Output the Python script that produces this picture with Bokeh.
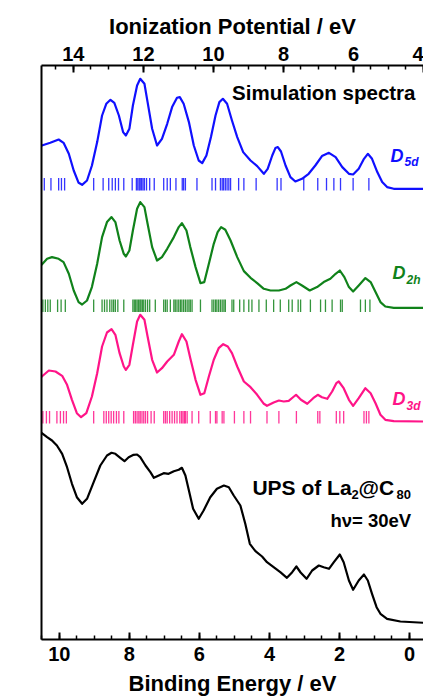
from bokeh.plotting import figure
from bokeh.models import Range1d, LinearAxis, SingleIntervalTicker, FixedTicker, Label
from bokeh.embed import file_html
from bokeh.resources import INLINE

# ---------------- data ----------------
# Binding energy (eV) / intensity (arb. units above each trace's own baseline)
be_d5d = [10.51, 10.50, 10.26, 10.02, 9.88, 9.73, 9.59, 9.45, 9.35, 9.21, 9.07, 8.92, 8.78, 8.66, 8.54,
          8.43, 8.30, 8.18, 8.10, 8.00, 7.90, 7.78, 7.69, 7.57, 7.48, 7.35, 7.21, 7.07, 6.92, 6.78,
          6.64, 6.56, 6.45, 6.30, 6.16, 6.02, 5.92, 5.80, 5.67, 5.54, 5.43, 5.33, 5.21, 5.07, 4.92,
          4.75, 4.54, 4.35, 4.16, 4.05, 3.92, 3.83, 3.76, 3.67, 3.54, 3.40, 3.26, 3.07, 2.88, 2.69,
          2.50, 2.30, 2.11, 1.92, 1.73, 1.61, 1.45, 1.30, 1.19, 1.07, 0.92, 0.78, 0.64, 0.45, -0.40]
int_d5d = [43, 43.3, 46, 49.3, 46, 35, 18.3, 6, 4, 8.3, 23.3, 46.7, 73.3, 85, 89,
           86, 73.3, 56.7, 53.3, 60, 83.3, 103.3, 110, 105, 86.7, 60, 43.3, 50, 65, 81.7,
           91, 91.7, 85, 66.7, 43.3, 28.3, 25.7, 33.3, 51.7, 73.3, 86.7, 90, 85, 68.3, 51.7,
           36.7, 28.3, 22.7, 15, 20, 33.3, 40.7, 41.7, 37.3, 23.3, 11.7, 7.3, 10, 15, 23.3,
           32.7, 36, 31.7, 21.7, 15, 14.3, 20, 30, 35, 30, 16.7, 6.7, 1.7, 0, 0]

be_d2h = [10.51, 10.50, 10.35, 10.21, 10.02, 9.88, 9.73, 9.59, 9.45, 9.35, 9.21, 9.07, 8.92, 8.78, 8.64,
          8.51, 8.40, 8.28, 8.16, 8.10, 8.00, 7.90, 7.78, 7.69, 7.57, 7.48, 7.35, 7.21, 7.07, 6.92,
          6.73, 6.59, 6.50, 6.37, 6.26, 6.11, 5.97, 5.86, 5.73, 5.59, 5.48, 5.38, 5.26, 5.11, 4.92,
          4.73, 4.54, 4.35, 4.16, 3.97, 3.73, 3.54, 3.40, 3.23, 3.07, 2.85, 2.64, 2.45, 2.26, 2.11,
          1.99, 1.86, 1.73, 1.61, 1.45, 1.26, 1.11, 0.97, 0.83, 0.69, 0.45, -0.40]
int_d2h = [43, 43.3, 49, 50.7, 49, 45.7, 34, 17.3, 5.7, 3.3, 7.3, 20.7, 44, 70.7, 85.7,
           90.7, 85.7, 67.3, 54, 51.3, 57.3, 77.3, 99, 105.7, 100.7, 84, 60.7, 47.3, 50.7, 59,
           70.7, 80.7, 84.7, 77.3, 60.7, 40.7, 24.7, 25.7, 44, 64, 75.7, 80.7, 78, 67.3, 50.7,
           36.7, 30, 24.7, 19, 17.3, 17.3, 19, 22.3, 25.7, 22.3, 17.3, 20.7, 25.7, 29, 34,
           37.3, 30.7, 20.7, 16.3, 22.3, 29.7, 25.7, 15.7, 5.7, 1.3, 0, 0]

be_d3d = [10.51, 10.50, 10.30, 10.11, 9.92, 9.78, 9.64, 9.50, 9.38, 9.23, 9.07, 8.92, 8.78, 8.64, 8.51,
          8.40, 8.28, 8.16, 8.10, 8.00, 7.90, 7.78, 7.69, 7.57, 7.48, 7.35, 7.21, 7.07, 6.92, 6.73,
          6.59, 6.50, 6.37, 6.26, 6.11, 5.97, 5.86, 5.73, 5.59, 5.45, 5.32, 5.19, 5.07, 4.92, 4.73,
          4.54, 4.35, 4.16, 4.07, 3.88, 3.73, 3.59, 3.45, 3.30, 3.24, 3.10, 2.92, 2.75, 2.62, 2.50,
          2.35, 2.21, 2.09, 2.02, 1.88, 1.73, 1.61, 1.45, 1.26, 1.11, 0.97, 0.83, 0.69, 0.45, -0.40]
int_d3d = [44.5, 45, 51, 50, 45.7, 36.7, 21.7, 8.3, 4.3, 8.3, 25, 48.3, 75, 89, 92.3,
           86.7, 68.3, 55, 51.7, 56.7, 76.7, 100, 106.7, 101.7, 85, 61.7, 49, 53.3, 60, 66.7,
           80, 87.3, 80, 63.3, 41.7, 26.7, 28.3, 45, 61.7, 73.3, 77.3, 75, 68.3, 55, 40,
           34.3, 26.7, 17.7, 15.7, 19, 21, 20, 20.7, 25, 26.7, 21.7, 17.7, 23.3, 26.7, 24.3,
           22.7, 30, 38.3, 40, 33.3, 21.7, 15.7, 23.3, 33.3, 28.3, 18.3, 6.7, 1.7, 0.3, 0]

be_ups = [10.51, 10.50, 10.35, 10.21, 10.07, 9.92, 9.78, 9.64, 9.50, 9.35, 9.21, 9.02, 8.83, 8.64, 8.51,
          8.40, 8.26, 8.14, 8.02, 7.88, 7.78, 7.69, 7.54, 7.40, 7.30, 7.16, 7.02, 6.88, 6.73, 6.59,
          6.50, 6.40, 6.30, 6.18, 6.02, 5.88, 5.69, 5.50, 5.30, 5.16, 5.02, 4.83, 4.69, 4.56, 4.40,
          4.21, 4.07, 3.88, 3.69, 3.50, 3.35, 3.23, 3.11, 2.94, 2.78, 2.59, 2.45, 2.30, 2.16, 1.99,
          1.88, 1.73, 1.61, 1.45, 1.30, 1.19, 1.07, 0.94, 0.83, 0.64, 0.26, -0.40]
cnt_ups = [207, 206.3, 202.3, 199, 194, 185.7, 172.3, 155.7, 142.3, 135.7, 140.7, 157.3, 174, 184, 186.7,
           185.7, 181.7, 178.3, 182.3, 184.7, 185, 182.3, 174, 167.3, 161.7, 164, 166.3, 165.7, 168.3, 169.7,
           171.7, 164, 149, 130.7, 120.7, 129, 142.3, 150.7, 154, 152.3, 144, 134, 115.7, 95.7, 88.3,
           83, 77.3, 72.3, 67.3, 61.7, 67.3, 73, 67, 60.7, 69, 74, 72.3, 70.7, 77.3, 85,
           77.3, 59, 49.7, 59, 65, 59, 45.7, 32.3, 25.7, 20.7, 18, 16.7]

# calculated level positions (binding energy, eV)
sticks_d5d = [10.43, 10.24, 10.02, 9.94, 9.85, 9.02, 8.75, 8.59, 8.49, 8.40, 8.31, 8.16, 7.92, 7.80,
              7.76, 7.72, 7.69, 7.65, 7.61, 7.57, 7.51, 7.42, 7.29, 7.02, 6.92, 6.83, 6.67, 6.49,
              6.45, 6.40, 6.07, 5.64, 5.54, 5.40, 5.35, 5.31, 5.26, 5.21, 5.16, 5.11, 4.88, 4.73,
              4.38, 3.78, 3.67, 3.02, 2.62, 2.37, 2.16, 1.97, 1.61, 1.16]
sticks_d2h = [10.47, 10.40, 10.33, 10.26, 10.05, 9.95, 9.83, 9.02, 8.78, 8.71, 8.64, 8.56, 8.50, 8.45,
              8.40, 8.33, 8.16, 7.90, 7.86, 7.82, 7.78, 7.74, 7.70, 7.67, 7.63, 7.59, 7.54, 7.48,
              7.42, 7.26, 7.02, 6.97, 6.92, 6.83, 6.73, 6.69, 6.64, 6.59, 6.54, 6.50, 6.45, 6.40,
              6.35, 6.30, 6.26, 6.21, 5.97, 5.64, 5.59, 5.54, 5.50, 5.45, 5.40, 5.35, 5.30, 5.26,
              5.07, 5.02, 4.85, 4.73, 4.59, 4.50, 4.30, 4.09, 3.88, 3.69, 3.45, 3.35, 3.18, 3.11,
              2.83, 2.54, 2.40, 2.21, 1.97, 1.92, 1.40, 1.26, 1.13]
sticks_d3d = [10.47, 10.37, 10.28, 10.07, 9.97, 9.88, 9.80, 9.02, 8.73, 8.66, 8.59, 8.52, 8.45, 8.37,
              8.30, 8.16, 7.88, 7.83, 7.78, 7.73, 7.69, 7.64, 7.59, 7.54, 7.48, 7.38, 7.29, 7.02,
              6.97, 6.92, 6.85, 6.78, 6.71, 6.64, 6.56, 6.51, 6.47, 6.43, 6.40, 6.35, 6.21, 6.02,
              5.69, 5.54, 5.50, 5.35, 5.30, 5.00, 4.73, 4.54, 4.07, 3.73, 3.23, 2.62, 2.56, 2.09,
              1.99, 1.88, 1.30, 1.23, 1.16]

IP_OFFSET = 4.4          # ionization potential = binding energy + offset
BE_START, BE_END = 10.51, -0.40

# layout constants (vertical stacking of traces)
BASE_D5D, BASE_D2H, BASE_D3D = 450.7, 331.7, 218.0
STICK_D5D = (449.0, 461.5)
STICK_D2H = (327.5, 340.0)
STICK_D3D = (216.0, 228.5)

BLUE = "#1010ff"
GREEN = "#10821a"
PINK = "#ff1488"
FONT = "Liberation Sans"

p = figure(width=423, height=700, output_backend="svg", toolbar_location=None,
           x_range=Range1d(BE_START, BE_END), y_range=Range1d(0, 574),
           min_border_left=41, min_border_right=0, min_border_top=65, min_border_bottom=61,
           x_axis_location="below")
p.outline_line_color = None
p.grid.visible = False
p.background_fill_color = "white"


def shifted(vals, base):
    return [base + v for v in vals]


p.line(be_d5d, shifted(int_d5d, BASE_D5D), line_color=BLUE, line_width=2.2, line_join="round")
p.line(be_d2h, shifted(int_d2h, BASE_D2H), line_color=GREEN, line_width=2.2, line_join="round")
p.line(be_d3d, shifted(int_d3d, BASE_D3D), line_color=PINK, line_width=2.2, line_join="round")
p.line(be_ups, cnt_ups, line_color="black", line_width=2.2, line_join="round")

for sticks, (lo, hi), col in [(sticks_d5d, STICK_D5D, BLUE),
                              (sticks_d2h, STICK_D2H, GREEN),
                              (sticks_d3d, STICK_D3D, PINK)]:
    p.segment(x0=sticks, y0=[lo] * len(sticks), x1=sticks, y1=[hi] * len(sticks),
              line_color=col, line_width=1.3, line_alpha=0.85)


def style_axis(a, label):
    a.axis_label = label
    a.axis_label_text_font = FONT
    a.axis_label_text_font_style = "bold"
    a.axis_label_text_font_size = "22px"
    a.axis_label_text_color = "black"
    a.major_label_text_font = FONT
    a.major_label_text_font_style = "bold"
    a.major_label_text_font_size = "20px"
    a.major_label_text_color = "black"
    a.axis_line_width = 2
    a.axis_line_color = "black"
    a.major_tick_in = 7
    a.major_tick_out = 0
    a.minor_tick_in = 4
    a.minor_tick_out = 0
    a.major_tick_line_width = 2
    a.minor_tick_line_width = 1.5
    a.major_tick_line_color = "black"
    a.minor_tick_line_color = "black"


# bottom axis
ax = p.xaxis[0]
ax.ticker = SingleIntervalTicker(interval=2, num_minor_ticks=4)
style_axis(ax, "Binding Energy / eV")
ax.axis_label_standoff = 7
ax.major_label_standoff = 7

# top axis (ionization potential)
p.extra_x_ranges = {"ip": Range1d(BE_START + IP_OFFSET, BE_END + IP_OFFSET)}
top = LinearAxis(x_range_name="ip", ticker=SingleIntervalTicker(interval=2, num_minor_ticks=4))
style_axis(top, "Ionization Potential / eV")
top.axis_label_standoff = 5
top.major_label_standoff = 5
p.add_layout(top, "above")

# left axis: plain line
ly = p.yaxis[0]
ly.ticker = FixedTicker(ticks=[])
ly.axis_line_width = 2
ly.axis_line_color = "black"
ly.major_tick_line_color = None
ly.minor_tick_line_color = None


def bx(px):
    return (409 - px) / 35.0


def by(py):
    return 639 - py


def lab(text, px, py, size, color="black", style="bold", align="left", angle=0, baseline="alphabetic"):
    p.add_layout(Label(x=bx(px), y=by(py), text=text, text_font=FONT, text_font_size=size,
                       text_font_style=style, text_color=color, text_align=align,
                       text_baseline=baseline, angle=angle))


lab("Photoelectron counts", 23, 188, "22px", angle=1.5708, align="center", baseline="middle")
lab("Simulation spectra", 415, 92, "20.5px", align="right")

lab("D", 390, 155.5, "18px", color=BLUE, style="bold italic")
lab("5d", 404, 161.5, "12px", color=BLUE, style="bold italic")
lab("D", 392, 272, "18px", color=GREEN, style="bold italic")
lab("2h", 406, 279, "12px", color=GREEN, style="bold italic")
lab("D", 392, 398, "18px", color=PINK, style="bold italic")
lab("3d", 406, 405, "12px", color=PINK, style="bold italic")

lab("UPS of La", 252, 487, "21px")
lab("2", 351, 494, "13px")
lab("@C", 358, 487, "21px")
lab("80", 396, 494, "13px")
lab("h\u03bd= 30eV", 330, 520, "18.5px")

open("out.html", "w").write(file_html(p, INLINE))
